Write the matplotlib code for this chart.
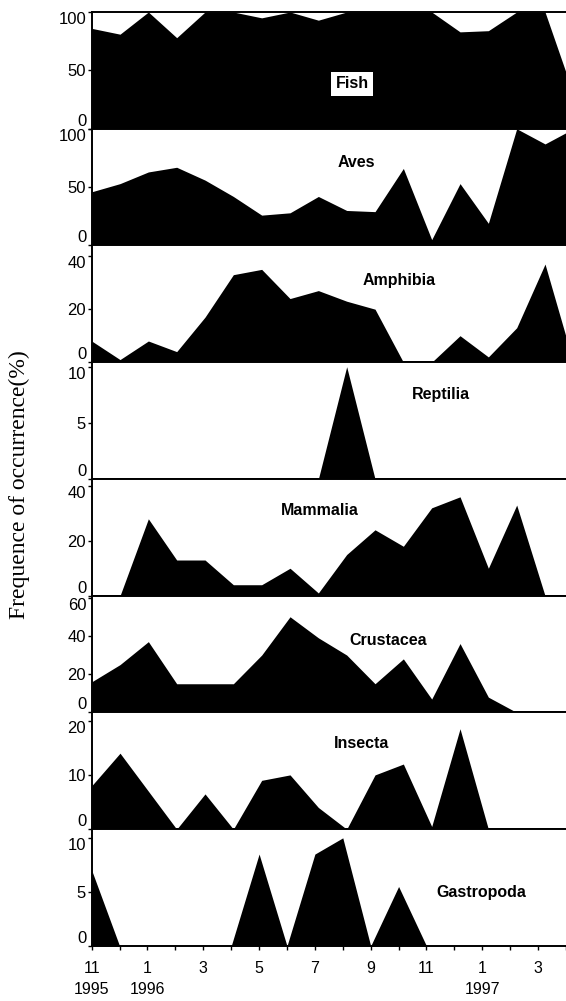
import numpy as np
import matplotlib.pyplot as plt

# months from Nov 1995 (0) to Apr 1997 (17)
months = np.arange(18)

fish = [86, 81, 100, 78, 100, 100, 95, 100, 93, 100, 100, 100, 100, 83, 84, 100, 100, 30]
aves = [46, 53, 63, 67, 56, 42, 26, 28, 42, 30, 29, 66, 5, 53, 19, 100, 87, 100]
amphibia = [8, 1, 8, 4, 17, 33, 35, 24, 27, 23, 20, 0, 0, 10, 2, 13, 37, 0]
reptilia = [0, 0, 0, 0, 0, 0, 0, 0, 0, 10, 0, 0, 0, 0, 0, 0, 0, 0]
mammalia = [0, 0, 28, 13, 13, 4, 4, 10, 1, 15, 24, 18, 32, 36, 10, 33, 0, 0]
crustacea = [16, 25, 37, 15, 15, 15, 30, 50, 39, 30, 15, 28, 7, 36, 8, 0, 0, 0]
insecta = [8, 14, 7, 0, 6.5, 0, 9, 10, 4, 0, 10, 12, 0.5, 18.5, 0, 0, 0, 0]
gastropoda = [7, 0, 0, 0, 0, 0, 8.5, 0, 8.5, 10, 0, 5.5, 0, 0, 0, 0, 0, 0]

names = ["Fish", "Aves", "Amphibia", "Reptilia", "Mammalia", "Crustacea", "Insecta", "Gastropoda"]
series = [fish, aves, amphibia, reptilia, mammalia, crustacea, insecta, gastropoda]
yticks = [[0, 50, 100], [0, 50, 100], [0, 20, 40], [0, 5, 10],
          [0, 20, 40], [0, 20, 40, 60], [0, 10, 20], [0, 5, 10]]
ytops = [100, 100, 44, 10.4, 42.5, 61, 21.5, 10.8]
label_pos = [(0.549, 0.385), (0.557, 0.71), (0.648, 0.70), (0.737, 0.72),
             (0.481, 0.73), (0.625, 0.62), (0.568, 0.73), (0.821, 0.46)]

xtick_pos = [0, 2, 4, 6, 8, 10, 12, 14, 16]
xtick_labels = ["11\n1995", "1\n1996", "3", "5", "7", "9", "11", "1\n1997", "3"]

plt.rcParams['font.family'] = ['Liberation Sans', 'DejaVu Sans']

fig = plt.figure(figsize=(5.66, 10.01), dpi=100)
gs = fig.add_gridspec(8, 1, left=0.162, right=1.0, top=0.988, bottom=0.055, hspace=0)

for k in range(8):
    ax = fig.add_subplot(gs[k])
    ax.fill_between(months, series[k], 0, color='black', lw=0)
    ax.set_xlim(0, 16.74)
    ax.set_ylim(0, ytops[k])
    ax.set_yticks(yticks[k])
    ax.set_yticklabels([str(t) for t in yticks[k]], fontsize=12)
    lbls = ax.get_yticklabels()
    lbls[0].set_va('bottom')
    lbls[-1].set_va('top')
    ax.tick_params(axis='y', direction='out', length=3, width=1, pad=1)
    for s in ['left', 'bottom', 'top']:
        ax.spines[s].set_linewidth(1.4)
    ax.spines['right'].set_visible(False)
    if k < 7:
        ax.set_xticks([])
    else:
        ax.set_xticks(xtick_pos)
        ax.set_xticklabels(xtick_labels, fontsize=11.5, linespacing=1.45)
        ax.set_xticks(months[1::2], minor=True)
        ax.tick_params(axis='x', which='both', direction='out', length=3, width=1, pad=8)
    bb = None
    if names[k] == "Fish":
        bb = dict(boxstyle='square,pad=0.3', fc='white', ec='none')
    ax.text(label_pos[k][0], label_pos[k][1], names[k], transform=ax.transAxes,
            ha='center', va='center', fontsize=11.5, fontweight='bold', bbox=bb)

fig.text(0.035, 0.516, "Frequence of occurrence(%)", rotation=90, ha='center', va='center',
         fontsize=17, family=['Liberation Serif', 'DejaVu Serif'])

fig.savefig("out.png", dpi=100)
